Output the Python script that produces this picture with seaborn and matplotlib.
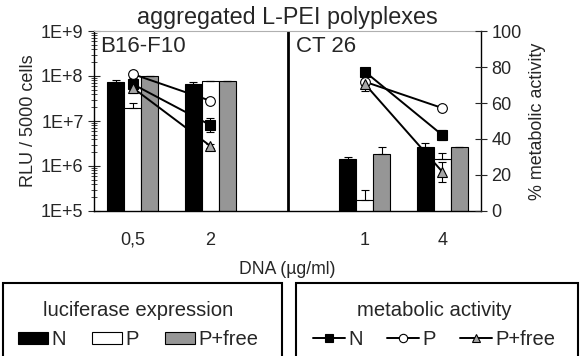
import numpy as np
import pandas as pd
import seaborn as sns
from matplotlib import pyplot as plt
from matplotlib.patches import Patch, Rectangle
from matplotlib.lines import Line2D

sns.set_style('white')
plt.rcParams['font.family'] = ['Liberation Sans', 'DejaVu Sans']

# data
doses = ['0,5', '2', '1', '4']
slots = ['0,5', '2', '', '1', '4']
cells = ['B16-F10', 'B16-F10', 'CT 26', 'CT 26']
forms = ['N', 'P', 'P+free']

rlu_N = [7.4e7, 6.7e7, 1.43e6, 2.7e6]
rlu_N_err = [0.8e7, 0.6e7, 0.15e6, 0.5e6]
rlu_P = [1.9e7, 7.7e7, 1.8e5, 1.43e6]
rlu_P_err = [0.6e7, 0.2e7, 1.1e5, 0.5e6]
rlu_Pf = [9.8e7, 7.7e7, 1.85e6, 2.65e6]
rlu_Pf_err = [0.2e7, 0.2e7, 0.75e6, 0.05e6]

met_N = [70.5, 47.8, 77.4, 42.2]
met_N_err = [3.5, 3.7, 1.5, 3.0]
met_P = [76.1, 61.3, 71.8, 57.2]
met_P_err = [0, 0, 0, 0]
met_Pf = [68.5, 36.2, 70.5, 21.8]
met_Pf_err = [3.0, 1.0, 3.7, 5.5]

bar_colors = {'N': 'black', 'P': 'white', 'P+free': '#969696'}
marker_kw = {'N': dict(marker='s', mfc='black'),
             'P': dict(marker='o', mfc='white'),
             'P+free': dict(marker='^', mfc='#a6a6a6')}

rlu = {'N': (rlu_N, rlu_N_err), 'P': (rlu_P, rlu_P_err), 'P+free': (rlu_Pf, rlu_Pf_err)}
met = {'N': (met_N, met_N_err), 'P': (met_P, met_P_err), 'P+free': (met_Pf, met_Pf_err)}

bars = pd.DataFrame([(d, f, rlu[f][0][i]) for f in forms for i, d in enumerate(doses)],
                    columns=['dose', 'form', 'rlu'])
pos = np.array([slots.index(d) for d in doses])

fig = plt.figure(figsize=(5.82, 3.56), dpi=100)
W, H = 582, 356
ax = fig.add_axes([94/W, 1-211/H, (481-94)/W, (211-31)/H])
ax.set_yscale('log')

sns.barplot(data=bars, x='dose', y='rlu', hue='form', order=slots, hue_order=forms,
            palette=bar_colors, edgecolor='black', linewidth=0.8, width=0.66,
            errorbar=None, legend=False, ax=ax)

bw = 0.22
for k, f in enumerate(forms):
    v, e = rlu[f]
    ax.errorbar(pos + (k-1)*bw, v, yerr=[np.zeros(len(v)), e], fmt='none',
                ecolor='black', elinewidth=0.8, capsize=3, capthick=0.8, zorder=3)

ax.set_ylim(1e5, 1e9)
ax.set_xlim(-0.5, 4.5)
ax.axvline(2, color='black', lw=2)
ax.set_yticks([1e5, 1e6, 1e7, 1e8, 1e9], ['1E+5', '1E+6', '1E+7', '1E+8', '1E+9'])
ax.set_xticks(np.arange(-0.5, 4.6, 1), [])
ax.set_xticks(pos, doses, minor=True)
ax.tick_params(axis='x', which='major', direction='inout', length=8, width=0.8)
ax.tick_params(axis='x', which='minor', length=0, labelsize=13, pad=15)
ax.tick_params(axis='y', which='major', direction='inout', length=9, width=0.8,
               labelsize=13, pad=3)
ax.tick_params(axis='y', which='minor', direction='inout', length=5, width=0.6, left=True)
ax.set_xlabel('DNA (µg/ml)', fontsize=12.7, labelpad=9)
ax.set_ylabel('RLU / 5000 cells', fontsize=13, labelpad=3)
for s in ['left', 'bottom', 'right']:
    ax.spines[s].set_color('black')
    ax.spines[s].set_linewidth(1)
ax.spines['top'].set_color('#b0b0b0')
ax.spines['top'].set_linewidth(0.8)

ax.text(0.015, 0.97, 'B16-F10', transform=ax.transAxes, fontsize=16, va='top', ha='left')
ax.text(0.522, 0.97, 'CT 26', transform=ax.transAxes, fontsize=16, va='top', ha='left')
ax.set_title('aggregated L-PEI polyplexes', fontsize=16.8, pad=5)

ax2 = ax.twinx()
for f in forms:
    v, e = met[f]
    df = pd.DataFrame({'x': pos, 'y': v, 'cell': cells})
    sns.lineplot(data=df, x='x', y='y', units='cell', estimator=None, color='black',
                 lw=1.4, mec='black', mew=0.8, ms=7, ax=ax2, zorder=4, **marker_kw[f])
    ax2.errorbar(pos, v, yerr=e, fmt='none', ecolor='black', elinewidth=0.8,
                 capsize=3, capthick=0.8, zorder=3)
ax2.set_ylim(0, 100)
ax2.set_yticks(range(0, 101, 20))
ax2.tick_params(axis='y', direction='inout', length=9, width=0.8, labelsize=13, pad=3)
ax2.set_ylabel('% metabolic activity', fontsize=12.9, labelpad=5)
ax2.set_xlabel('')
for s in ax2.spines.values():
    s.set_visible(False)

# legends
bar_handles = [Patch(facecolor=bar_colors[f], edgecolor='black', lw=0.8) for f in forms]
line_handles = [Line2D([], [], color='black', lw=1.4, mec='black', mew=0.8, ms=6,
                       **marker_kw[f]) for f in forms]
leg_kw = dict(ncol=3, frameon=False, fontsize=14.5, title_fontsize=14.6, loc='upper center',
              handletextpad=0.15, borderaxespad=0)
fig.legend(bar_handles, forms, title='luciferase expression', handlelength=1.5,
           handleheight=0.6, columnspacing=1.3, bbox_to_anchor=(138/W, 1-293/H), **leg_kw)
fig.legend(line_handles, forms, title='metabolic activity', handlelength=1.6,
           columnspacing=1.2, bbox_to_anchor=(434/W, 1-293/H), **leg_kw)
for x0, x1 in [(3, 282), (296, 578)]:
    fig.patches.append(Rectangle((x0/W, -0.1), (x1-x0)/W, 0.1 + 1-283/H, fill=False,
                                 lw=1.5, edgecolor='black', transform=fig.transFigure))

plt.savefig('out.png', dpi=100)
plt.close()
